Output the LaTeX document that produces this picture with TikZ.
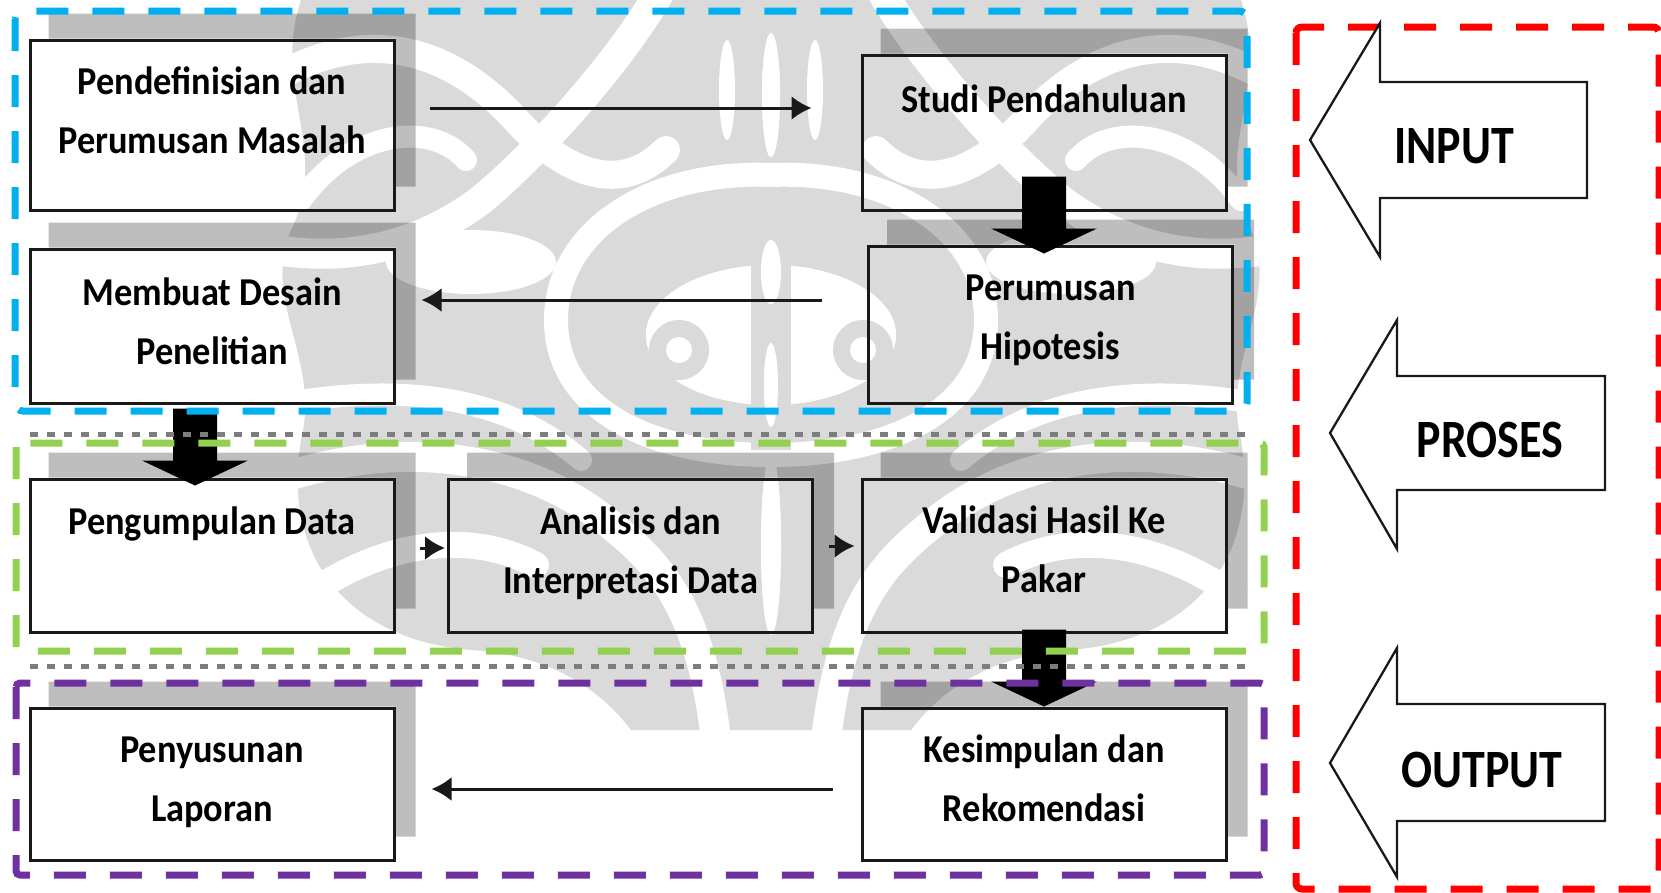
\documentclass[tikz,border=0pt]{standalone}
\usepackage{fontspec}
\setmainfont{Carlito}
\newfontfamily\boxfont{Carlito}[FakeStretch=0.92]
\newfontfamily\tagfont{Carlito}[FakeStretch=0.85]
\usetikzlibrary{calc,arrows.meta,backgrounds}

\definecolor{uiblue}{RGB}{0,176,240}
\definecolor{uigreen}{RGB}{146,208,80}
\definecolor{uipurple}{RGB}{112,48,160}
\definecolor{uired}{RGB}{255,0,0}
\definecolor{wm}{RGB}{218,218,218}
\definecolor{ink}{RGB}{25,25,25}
\definecolor{dotgray}{RGB}{125,125,125}

% light ornament printed behind the chart, one half at a time (#1 = 1 left, -1 right)
\newcommand\ornbase[1]{%
  \begin{scope}[shift={(771,0)}, xscale=#1]
    \fill[wm] (0,0) -- (-470,0)
      .. controls (-500,90) and (-440,150) .. (-480,230)
      .. controls (-510,300) and (-450,360) .. (-470,440)
      .. controls (-490,560) and (-420,640) .. (-300,650)
      .. controls (-220,655) and (-170,690) .. (-140,730) -- (0,730) -- cycle;
  \end{scope}}
\newcommand\orncut[1]{%
  \begin{scope}[shift={(771,0)}, xscale=#1, cut/.style={draw=white, line cap=round}]
    \draw[cut, line width=28pt] (-490,75) .. controls (-390,20) and (-310,60) .. (-255,120)
      .. controls (-205,175) and (-150,195) .. (-105,150);
    \draw[cut, line width=30pt] (-110,-10) .. controls (-150,60) and (-230,150) .. (-290,200)
      .. controls (-350,245) and (-420,262) .. (-495,250);
    \draw[cut, line width=22pt] (-470,200) .. controls (-420,130) and (-340,120) .. (-305,160);
    \fill[white] (-300,262) ellipse [x radius=85, y radius=32];
    \draw[cut, line width=24pt] (0,175) .. controls (-120,170) and (-215,230) .. (-215,320)
      .. controls (-215,410) and (-120,455) .. (0,455);
    \fill[white] (0,335) ellipse [x radius=125, y radius=70];
    \fill[white] (0,95) ellipse [x radius=9, y radius=62];
    \fill[white] (-44,90) ellipse [x radius=8, y radius=50];
    \draw[cut, line width=22pt] (-495,405) .. controls (-360,380) and (-260,400) .. (-190,460);
    \draw[cut, line width=30pt] (-495,480) .. controls (-380,440) and (-250,450) .. (-160,525)
      .. controls (-110,565) and (-70,610) .. (-55,740);
    \draw[cut, line width=26pt] (-495,620) .. controls (-410,545) and (-310,525) .. (-235,565);
    \fill[white] (0,545) ellipse [x radius=10, y radius=90];
  \end{scope}}
\newcommand\orneyes[1]{%
  \begin{scope}[shift={(771,0)}, xscale=#1]
    \fill[wm] (-92,350) circle [radius=30];
    \fill[white] (-92,350) circle [radius=13];
    \fill[wm] (-20,215) rectangle (0,450);
    \fill[white] (0,272) ellipse [x radius=10, y radius=32];
    \fill[white] (0,385) ellipse [x radius=7, y radius=42];
  \end{scope}}

\begin{document}
\begin{tikzpicture}[x=1pt,y=-1pt,
  stepbox/.style={draw=ink, line width=3pt, rectangle, inner sep=0pt, minimum width=364pt},
  boxtext/.style={font=\boxfont\bfseries\fontsize{39.5}{59}\selectfont,
    align=center, inner sep=0pt, text=black},
  tagtext/.style={font=\tagfont\bfseries\fontsize{54}{60}\selectfont, inner sep=0pt},
  flow/.style={draw=ink, line width=3pt, -{Latex[length=20pt,width=24pt]}},
  blockfill/.style={fill=black},
  boxshade/.style={fill=black, fill opacity=0.255},
  group/.style={line width=7pt, dash pattern=on 32pt off 24pt},
  divider/.style={draw=dotgray, line width=5pt, dash pattern=on 8pt off 9pt},
  tagarrow/.style={draw=ink, line width=2.3pt, fill=white, line join=miter},
]
\useasboundingbox (0,0) rectangle (1661,892);

% ---- process steps ----
\node[stepbox, minimum height=170pt] (b1)       at (212,125)    {};
\node[stepbox, minimum height=155pt] (studi)    at (1044,132.5) {};
\node[stepbox, minimum height=157pt] (hipo)     at (1050.5,324.5) {};
\node[stepbox, minimum height=154pt] (desain)   at (212,326)    {};
\node[stepbox, minimum height=153pt] (kumpul)   at (212,555.5)  {};
\node[stepbox, minimum height=153pt] (analisis) at (630.5,555.5) {};
\node[stepbox, minimum height=153pt] (validasi) at (1044,555.5) {};
\node[stepbox, minimum height=152pt] (susun)    at (212,784)    {};
\node[stepbox, minimum height=152pt] (simpul)   at (1044,784)   {};

% ---- ornament and box shadows behind everything ----
\begin{scope}[on background layer]
  \ornbase{1}\ornbase{-1}
  \orncut{1}\orncut{-1}
  \orneyes{1}\orneyes{-1}
  % shadow offset up and to the right, visible only outside its box
  \foreach \n in {b1,studi,hipo,desain,kumpul,analisis,validasi,susun,simpul}{
    \fill[boxshade] ($(\n.north west)+(20,-25)$) -- ($(\n.north east)+(20,-25)$)
      -- ($(\n.south east)+(20,-25)$) -- ($(\n.south east)+(0,-25)$)
      -- (\n.north east) -- ($(\n.north west)+(20,0)$) -- cycle;
  }
\end{scope}

\node[boxtext] (t1) at ($(b1.north)+(0,72)$)       {Pendefinisian dan\\Perumusan Masalah};
\node[boxtext] (t2) at ($(studi.north)+(0,45)$)    {Studi Pendahuluan};
\node[boxtext] (t3) at ($(hipo.north)+(0,76)$)     {Perumusan\\Hipotesis};
\node[boxtext] (t4) at ($(desain.north)+(0,74)$)   {Membuat Desain\\Penelitian};
\node[boxtext] (t5) at ($(kumpul.north)+(0,46)$)   {Pengumpulan Data};
\node[boxtext] (t6) at ($(analisis.north)+(0,76)$) {Analisis dan\\Interpretasi Data};
\node[boxtext] (t7) at ($(validasi.north)+(0,72)$) {Validasi Hasil Ke\\Pakar};
\node[boxtext] (t8) at ($(susun.north)+(0,76)$)    {Penyusunan\\Laporan};
\node[boxtext] (t9) at ($(simpul.north)+(0,72)$)   {Kesimpulan dan\\Rekomendasi};

% ---- thick block arrows between stacked steps ----
\coordinate (s1) at ($(studi.south)+(0,-35)$);
\coordinate (e1) at ($(hipo.north)+(0,9)$);
\coordinate (s2) at ($(desain.south)+(-17,4)$);
\coordinate (e2) at ($(kumpul.north)+(-17,8)$);
\coordinate (s3) at ($(validasi.south)+(0,-4)$);
\coordinate (e3) at (simpul.north);
\foreach \s/\e in {s1/e1, s2/e2, s3/e3}{
  \fill[blockfill] let \p1=(\s), \p2=(\e) in
    (\x1-22pt,\y1) -- (\x1+22pt,\y1) -- (\x1+22pt,\y2+25pt) -- (\x1+53pt,\y2+25pt)
    -- (\x1,\y2) -- (\x1-53pt,\y2+25pt) -- (\x1-22pt,\y2+25pt) -- cycle;
}

% ---- thin flow arrows ----
\coordinate (f1) at ($(b1.east)+(34,-17)$);
\coordinate (f2) at ($(hipo.west)+(-45,-24.5)$);
\coordinate (f3) at ($(kumpul.east)+(24,-7.5)$);
\coordinate (f4) at ($(analisis.east)+(15,-9.5)$);
\coordinate (f5) at ($(simpul.west)+(-28,5)$);
\draw[flow, shorten >=49pt] (f1) -- (f1 -| studi.west);
\draw[flow, shorten >=26pt] (f2) -- (f2 -| desain.east);
\draw[flow, shorten >=2pt]  (f3) -- (f3 -| analisis.west);
\draw[flow, shorten >=6pt]  (f4) -- (f4 -| validasi.west);
\draw[flow, shorten >=36pt] (f5) -- (f5 -| susun.east);

% ---- dividers between phases ----
\coordinate (d1a) at (30,434);   \coordinate (d1b) at (1245,434);
\coordinate (d2a) at (30,666);   \coordinate (d2b) at (1245,666);
\draw[divider] (d1a) -- (d1b);
\draw[divider] (d2a) -- (d2b);

% ---- phase frames ----
\draw[group, draw=uiblue, rounded corners=8pt]   (15,11)   rectangle (1247,411);
\draw[group, draw=uigreen, rounded corners=4pt]  (16,443)  rectangle (1264,651);
\draw[group, draw=uipurple, rounded corners=4pt] (16,683)  rectangle (1264,875);
\draw[group, draw=uired, rounded corners=6pt]    (1296,27) rectangle (1659,889);

% ---- phase labels ----
\draw[tagarrow] (1310,140) -- (1380,23) -- (1380,82) -- (1587,82) -- (1587,198)
  -- (1380,198) -- (1380,257) -- cycle;
\draw[tagarrow] (1330,433) -- (1397,320) -- (1397,376) -- (1605,376) -- (1605,490)
  -- (1397,490) -- (1397,549) -- cycle;
\draw[tagarrow] (1330,763) -- (1397,648) -- (1397,704) -- (1605,704) -- (1605,821)
  -- (1397,821) -- (1397,877) -- cycle;
\node[tagtext] (lin)  at (1454,146) {INPUT};
\node[tagtext] (lpro) at (1490,440) {PROSES};
\node[tagtext] (lout) at (1482,770) {OUTPUT};
\end{tikzpicture}
\end{document}
